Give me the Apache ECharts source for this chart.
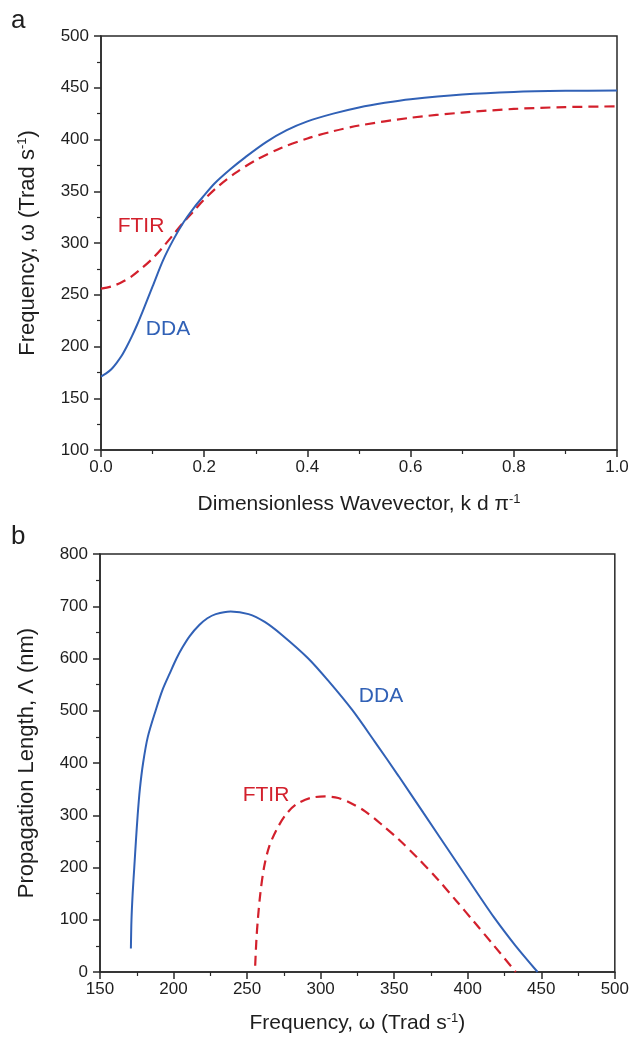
<!DOCTYPE html>
<html>
<head>
<meta charset="utf-8">
<script src="https://cdn.jsdelivr.net/npm/echarts@6/dist/echarts.min.js"></script>
<style>
  html, body { margin: 0; padding: 0; background: #ffffff; }
  #chart { width: 632px; height: 1040px; }
</style>
</head>
<body>
<div id="chart"></div>
<script>
// panel a: dispersion, wavevector (k d / pi) vs frequency (Trad/s)
var ddaK = [0, 0.01, 0.02, 0.03, 0.04, 0.05, 0.06, 0.07, 0.08, 0.09, 0.1, 0.12, 0.14, 0.16, 0.18, 0.2, 0.22, 0.25, 0.28, 0.32, 0.36, 0.4, 0.45, 0.5, 0.55, 0.6, 0.7, 0.8, 0.9, 1.0];
var ddaW = [171, 174, 178, 184, 191, 200, 210, 221, 233, 245.5, 258, 283, 303, 320, 334, 346, 357.5, 371, 383, 397.5, 409, 417.5, 425, 431, 435.5, 439, 443.5, 446, 447, 447.3];
var ftirK = [0, 0.02, 0.04, 0.06, 0.08, 0.1, 0.12, 0.14, 0.16, 0.18, 0.2, 0.23, 0.26, 0.3, 0.35, 0.4, 0.45, 0.5, 0.6, 0.7, 0.8, 0.9, 1.0];
var ftirW = [256, 258, 262, 268, 276, 285, 296, 308, 320, 331, 342, 356, 367.5, 380, 392, 401, 408, 413.5, 421, 426, 429.5, 431.3, 432];

// panel b: propagation length (nm) vs frequency (Trad/s)
var ddaFreq = [171, 171.4, 172.2, 173.3, 174.4, 175.6, 177.1, 179.3, 182.5, 188, 192.5, 197.5, 202, 206, 211, 217.5, 223, 228.7, 238.8, 251, 262, 273.7, 291.6, 305, 321.6, 337, 353, 370, 392, 408, 418, 432, 447.5];
var ddaLen = [45, 100, 150, 200, 250, 300, 350, 400, 450, 502, 540, 572, 600, 621, 643, 664, 677, 685, 690, 685, 670, 645, 600, 558, 501, 440, 375, 304, 212, 145, 104, 52, 0];
var ftirFreq = [255.5, 256.3, 257.3, 259, 261.5, 265, 270, 276, 283, 293, 303, 312, 320, 330, 342, 353, 366, 380, 392, 404, 418, 432.7];
var ftirLen = [12, 60, 100, 150, 200, 240, 272, 300, 320, 333, 336, 333, 324, 308, 281, 254, 218, 176, 137, 97, 50, 0];

function pairs(xs, ys) {
  return xs.map(function (x, i) { return [x, ys[i]]; });
}

var blue = '#3161b6';
var red = '#d3202c';
var ink = '#1e1e1e';
var font = 'Liberation Sans, Arial, sans-serif';

function axis(extra, titleSize) {
  var base = {
    type: 'value',
    axisLine: { show: true, onZero: false, lineStyle: { color: '#2a2a2a', width: 1.5 } },
    axisTick: { show: true, inside: false, length: 7, lineStyle: { color: '#2a2a2a', width: 1.5 } },
    minorTick: { show: true, splitNumber: 2, length: 4, lineStyle: { color: '#2a2a2a', width: 1.2 } },
    splitLine: { show: false },
    nameLocation: 'middle',
    nameTextStyle: {
      color: ink, fontSize: titleSize, fontFamily: font,
      rich: { sup: { fontSize: 13, fontFamily: font, color: ink, verticalAlign: 'top', padding: [0, 0, 10, 0] } }
    }
  };
  return Object.assign(base, extra);
}

var chart = echarts.init(document.getElementById('chart'), null, { renderer: 'canvas' });

chart.setOption({
  backgroundColor: '#ffffff',
  animation: false,
  grid: [
    { left: 101, top: 36, width: 516, height: 414, show: true, borderColor: '#2a2a2a', borderWidth: 1.5, backgroundColor: 'transparent' },
    { left: 100, top: 554, width: 519, height: 418, show: true, borderColor: '#2a2a2a', borderWidth: 1.5, backgroundColor: 'transparent' }
  ],
  xAxis: [
    axis({
      gridIndex: 0, min: 0, max: 1, interval: 0.2,
      axisLabel: { color: ink, fontSize: 17, fontFamily: font, margin: 9, formatter: function (v) { return v.toFixed(1); } },
      name: 'Dimensionless Wavevector, k d π{sup|-1}', nameGap: 43
    }, 21),
    axis({
      gridIndex: 1, min: 150, max: 500, interval: 50,
      axisLabel: { color: ink, fontSize: 17, fontFamily: font, margin: 9 },
      name: 'Frequency, ω (Trad s{sup|-1})', nameGap: 40
    }, 21)
  ],
  yAxis: [
    axis({
      gridIndex: 0, min: 100, max: 500, interval: 50,
      axisLabel: { color: ink, fontSize: 17, fontFamily: font, margin: 12 },
      name: 'Frequency, ω (Trad s{sup|-1})', nameGap: 62
    }, 22),
    axis({
      gridIndex: 1, min: 0, max: 800, interval: 100,
      axisLabel: { color: ink, fontSize: 17, fontFamily: font, margin: 12 },
      name: 'Propagation Length, Λ (nm)', nameGap: 62
    }, 22)
  ],
  series: [
    {
      name: 'FTIR', type: 'line', xAxisIndex: 0, yAxisIndex: 0,
      data: pairs(ftirK, ftirW), showSymbol: false, smooth: 0.3,
      lineStyle: { color: red, width: 2.2, type: [10, 6] }, z: 2
    },
    {
      name: 'DDA', type: 'line', xAxisIndex: 0, yAxisIndex: 0,
      data: pairs(ddaK, ddaW), showSymbol: false, smooth: 0.3,
      lineStyle: { color: blue, width: 2 }, z: 3
    },
    {
      name: 'DDA', type: 'line', xAxisIndex: 1, yAxisIndex: 1,
      data: pairs(ddaFreq, ddaLen), showSymbol: false, smooth: 0.3,
      lineStyle: { color: blue, width: 2 }, z: 3
    },
    {
      name: 'FTIR', type: 'line', xAxisIndex: 1, yAxisIndex: 1,
      data: pairs(ftirFreq, ftirLen), showSymbol: false, smooth: 0.3,
      lineStyle: { color: red, width: 2.2, type: [10, 6] }, z: 2
    }
  ],
  graphic: [
    { type: 'text', left: 11, top: 8, style: { text: 'a', fontSize: 26, fontFamily: font, fill: ink } },
    { type: 'text', left: 11, top: 524, style: { text: 'b', fontSize: 26, fontFamily: font, fill: ink } },
    { type: 'text', x: 141, y: 226, style: { text: 'FTIR', fontSize: 21, fontFamily: font, fill: red, align: 'center', verticalAlign: 'middle' } },
    { type: 'text', x: 168, y: 329, style: { text: 'DDA', fontSize: 21, fontFamily: font, fill: blue, align: 'center', verticalAlign: 'middle' } },
    { type: 'text', x: 381, y: 696, style: { text: 'DDA', fontSize: 21, fontFamily: font, fill: blue, align: 'center', verticalAlign: 'middle' } },
    { type: 'text', x: 266, y: 795, style: { text: 'FTIR', fontSize: 21, fontFamily: font, fill: red, align: 'center', verticalAlign: 'middle' } }
  ]
});
</script>
</body>
</html>
